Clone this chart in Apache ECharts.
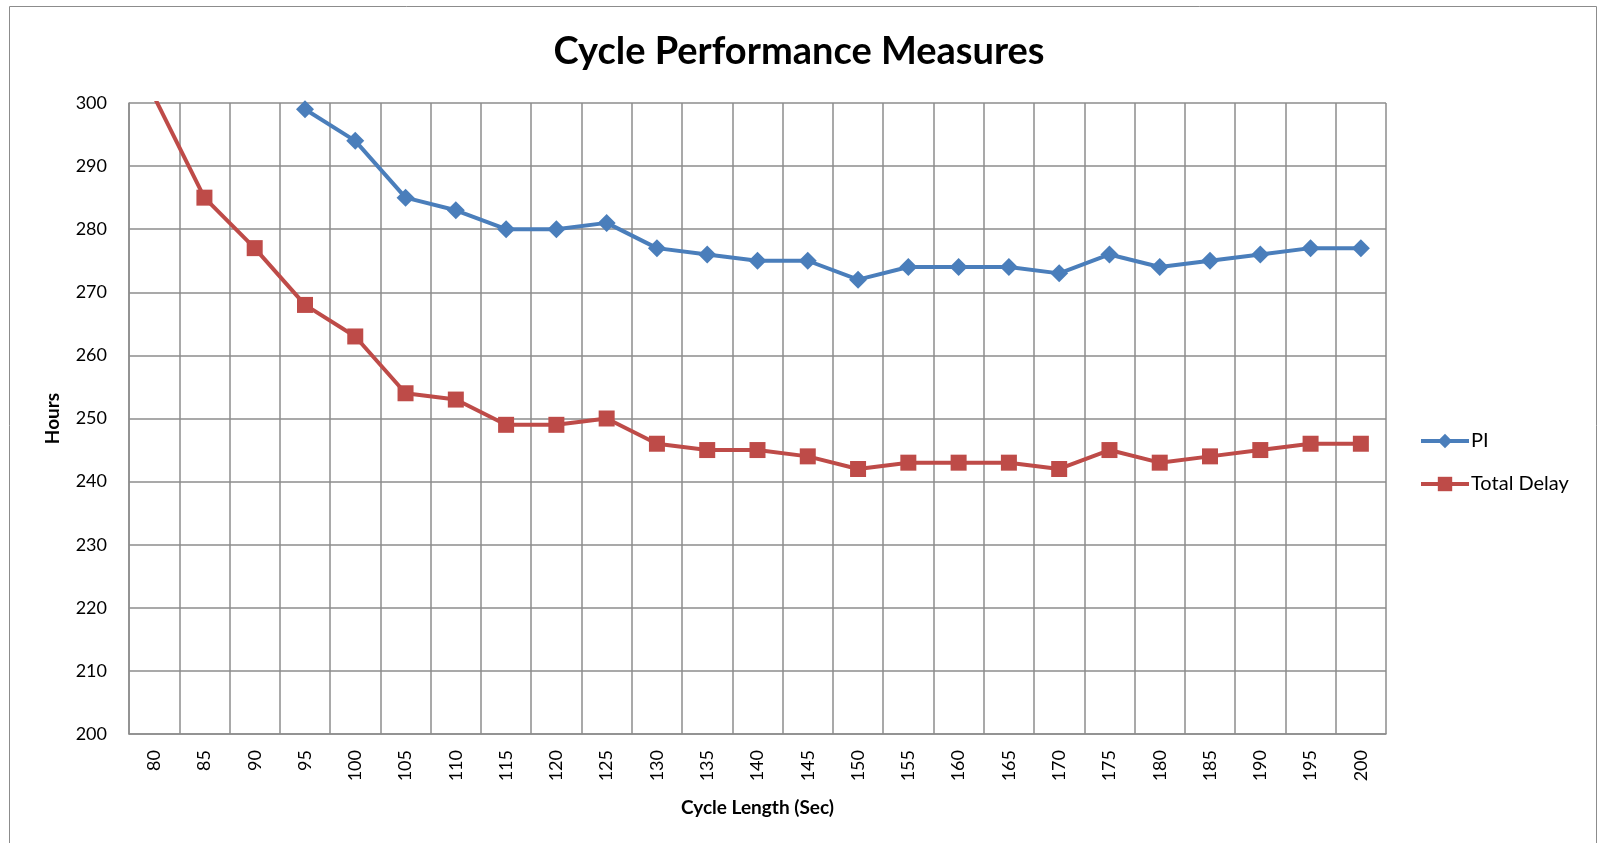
<!DOCTYPE html>
<html>
<head>
<meta charset="utf-8">
<title>Cycle Performance Measures</title>
<script src="https://cdn.jsdelivr.net/npm/echarts@6/dist/echarts.min.js"></script>
<style>
	html, body { margin: 0; padding: 0; background: #fff; }
	#chart { width: 1598px; height: 843px; }
</style>
</head>
<body>
<div id="chart"></div>
<script>
	// cycle length (sec)
	var cycleLengths = ["80", "85", "90", "95", "100", "105", "110", "115", "120", "125", "130", "135", "140",
		"145", "150", "155", "160", "165", "170", "175", "180", "185", "190", "195", "200"];

	// PI has no value shown below 95
	var piValues = [null, null, null, 299, 294, 285, 283, 280, 280, 281, 277, 276, 275,
		275, 272, 274, 274, 274, 273, 276, 274, 275, 276, 277, 277];

	var totalDelay = [301, 285, 277, 268, 263, 254, 253, 249, 249, 250, 246, 245, 245,
		244, 242, 243, 243, 243, 242, 245, 243, 244, 245, 246, 246];

	var FONT = "Lato";
	var gridColor = "#8c8c8c";

	var chart = echarts.init(document.getElementById("chart"), null, {renderer: "canvas"});

	var option = {
		backgroundColor: "#fff",
		animation: false,
		textStyle: {fontFamily: FONT},
		title: {
			text: "Cycle Performance Measures",
			left: "center",
			top: 28,
			textStyle: {fontFamily: FONT, fontWeight: "bold", fontSize: 38, color: "#000"}
		},
		graphic: [{
			type: "rect",
			shape: {x: 9.5, y: 6.5, width: 1587, height: 850},
			style: {fill: null, stroke: "#8c8c8c", lineWidth: 1},
			silent: true
		}],
		legend: {
			orient: "vertical",
			left: 1419,
			top: 431,
			padding: 0,
			itemWidth: 48,
			itemHeight: 18,
			itemGap: 23,
			lineStyle: {width: 4},
			textStyle: {fontFamily: FONT, fontSize: 20, color: "#000", padding: [0, 0, 0, -3]},
			data: ["PI", "Total Delay"]
		},
		grid: {left: 129, right: 212, top: 103, bottom: 109},
		xAxis: {
			type: "category",
			data: cycleLengths,
			boundaryGap: true,
			name: "Cycle Length (Sec)",
			nameLocation: "middle",
			nameGap: 64,
			nameTextStyle: {fontFamily: FONT, fontWeight: "bold", fontSize: 19, color: "#000"},
			axisLine: {lineStyle: {color: gridColor, width: 1.5}},
			axisTick: {show: false},
			axisLabel: {rotate: 90, margin: 16, fontSize: 18, color: "#000", fontFamily: FONT, interval: 0},
			splitLine: {show: true, interval: 0, lineStyle: {color: gridColor, width: 1.5}}
		},
		yAxis: {
			type: "value",
			min: 200,
			max: 300,
			interval: 10,
			name: "Hours",
			nameLocation: "middle",
			nameGap: 67,
			nameTextStyle: {fontFamily: FONT, fontWeight: "bold", fontSize: 19, color: "#000"},
			axisLine: {show: true, lineStyle: {color: gridColor, width: 1.5}},
			axisTick: {show: false},
			axisLabel: {margin: 22, fontSize: 18, color: "#000", fontFamily: FONT},
			splitLine: {lineStyle: {color: gridColor, width: 1.5}}
		},
		series: [{
			name: "PI",
			type: "line",
			data: piValues,
			connectNulls: false,
			clip: true,
			symbol: "diamond",
			symbolSize: 18,
			color: "#4a7ebb",
			lineStyle: {width: 4, color: "#4a7ebb"},
			itemStyle: {color: "#4a7ebb"}
		}, {
			name: "Total Delay",
			type: "line",
			data: totalDelay,
			clip: true,
			symbol: "rect",
			symbolSize: 16,
			color: "#be4b48",
			lineStyle: {width: 4, color: "#be4b48"},
			itemStyle: {color: "#be4b48"}
		}]
	};

	chart.setOption(option);
</script>
</body>
</html>
